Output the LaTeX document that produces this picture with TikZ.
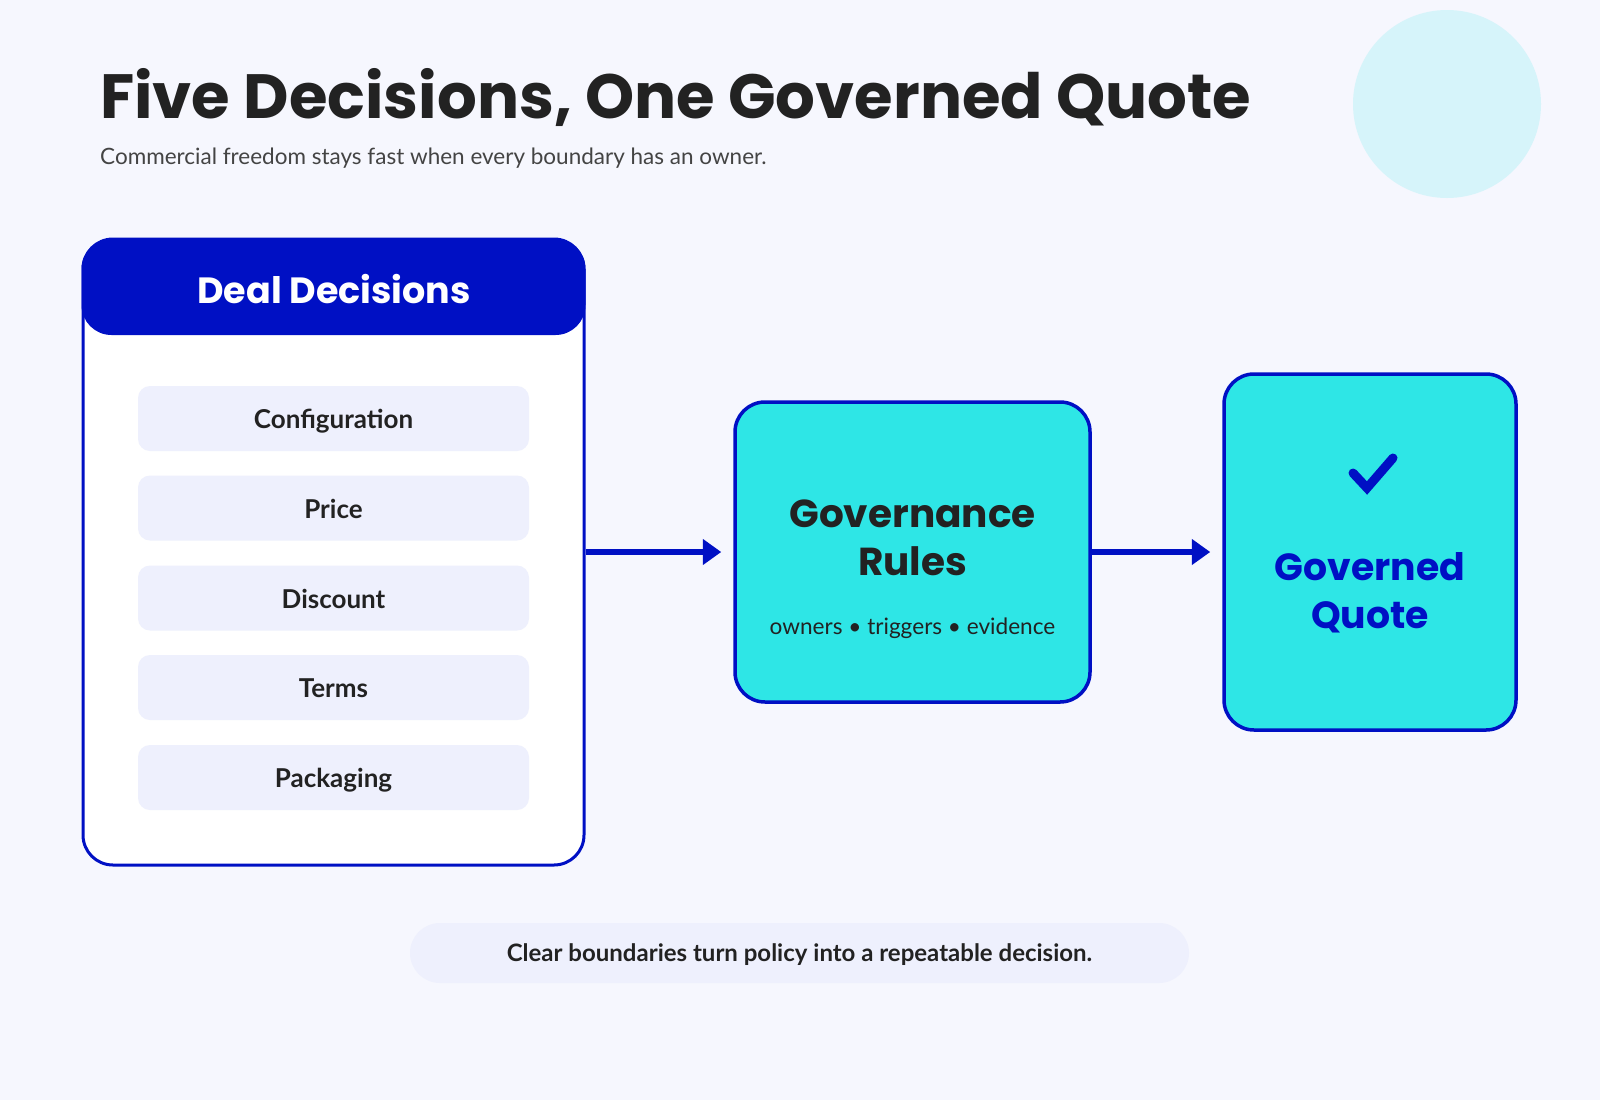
\documentclass[tikz,border=0pt]{standalone}
\usepackage{fontspec}
\setmainfont{Lato}
\newfontfamily\headfont{Poppins}[UprightFont=* SemiBold, BoldFont=* Bold]
\usetikzlibrary{arrows.meta}
\definecolor{bgc}{HTML}{F6F7FE}
\definecolor{deep}{HTML}{0010C4}
\definecolor{cyanbox}{HTML}{2EE6E6}
\definecolor{itemc}{HTML}{EEF0FD}
\definecolor{circc}{HTML}{D6F4FA}
\definecolor{ink}{HTML}{222222}
\definecolor{subink}{HTML}{444444}
\tikzset{
  itembox/.style={fill=itemc, rounded corners=12pt, minimum width=391pt, minimum height=65pt, inner sep=0pt,
    text height=20pt, text depth=0pt,
    font=\fontsize{26}{30}\selectfont\bfseries, text=ink},
  flowbox/.style={fill=cyanbox, draw=deep, line width=3.5pt, rounded corners=30pt, inner sep=0pt},
  flowarrow/.style={draw=deep, line width=6pt, shorten >=12pt, -{Triangle[length=18.5pt,width=25pt]}},
}
\begin{document}
\begin{tikzpicture}[x=1pt,y=-1pt]
\useasboundingbox (0,0) rectangle (1600,1100);
\fill[bgc] (0,0) rectangle (1600,1100);
\fill[circc] (1447,104) circle (94);
\node[anchor=base west, inner sep=0pt, text=ink, font=\headfont\fontsize{62.5}{70}\selectfont\bfseries] (title) at (100,118) {Five Decisions, One Governed Quote};
\node[anchor=base west, inner sep=0pt, text=subink, font=\fontsize{22.5}{26}\selectfont] (subtitle) at (100,164) {Commercial freedom stays fast when every boundary has an owner.};
% panel
\node[draw=deep, line width=3pt, fill=white, rounded corners=30pt, minimum width=501pt, minimum height=626pt, inner sep=0pt] (panel) at (333.5,552) {};
\node[fill=deep, rounded corners=30pt, minimum width=504pt, minimum height=96pt, inner sep=0pt] (head) at (333.5,287) {};
\node[text=white, font=\headfont\fontsize{36.5}{40}\selectfont\bfseries] (headtxt) at (334,289) {Deal Decisions};
\node[itembox] (i1) at (333.5,418.5) {Configuration};
\node[itembox] (i2) at (333.5,508) {Price};
\node[itembox] (i3) at (333.5,598) {Discount};
\node[itembox] (i4) at (333.5,687.5) {Terms};
\node[itembox] (i5) at (333.5,777.5) {Packaging};
% governance
\node[flowbox, minimum width=355pt, minimum height=300pt] (gov) at (912.5,552) {};
\node[text=ink, align=center, font=\headfont\fontsize{39}{48}\selectfont\bfseries] (govtxt) at (912.5,538) {Governance\\Rules};
\node[text=ink, font=\fontsize{22.6}{26}\selectfont] (govsub) at (912.5,628) {owners • triggers • evidence};
% quote
\node[flowbox, minimum width=292pt, minimum height=356pt] (quote) at (1370,552) {};
\draw[deep, line width=9pt, line cap=round, line join=miter] (1353,473) -- (1367,488) -- (1393,458);
\node[text=deep, align=center, font=\headfont\fontsize{37.8}{48}\selectfont\bfseries] (quotetxt) at (1370,593) {Governed\\Quote};
% arrows
\draw[flowarrow] (panel.east) -- (gov.west);
\draw[flowarrow] (gov.east) -- (quote.west);
% footer
\node[fill=itemc, rounded corners=30pt, minimum width=779pt, minimum height=60pt, inner sep=0pt, text height=17pt, text depth=0pt, text=ink, font=\fontsize{24}{28}\selectfont\bfseries] (foot) at (799.5,953) {Clear boundaries turn policy into a repeatable decision.};
\end{tikzpicture}
\end{document}
